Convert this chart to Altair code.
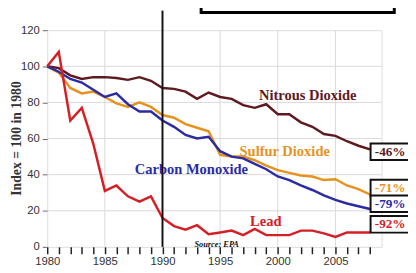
import altair as alt
import pandas as pd

years = list(range(1980, 2009))

nitrous = [100, 99, 95, 93, 94, 94, 93.5, 92.5, 94, 92, 88, 87.5, 86, 82, 85.5, 83, 82,
           78.5, 77, 79, 73.5, 73.5, 69, 66.5, 62.5, 61.5, 58.5, 56, 54]
sulfur = [100, 96.5, 88, 85, 86, 83, 79.5, 77.5, 80, 77.5, 73, 71.5, 68, 66, 64, 51, 50,
          50, 48, 45, 42.5, 41, 39.5, 39, 37, 37.5, 34, 32, 29]
carbon = [100, 97, 93, 91, 87, 83, 85, 79, 75, 75, 70, 66.5, 62, 60, 61, 53, 50, 49,
          46, 43, 39, 37, 34, 31.5, 28.5, 26, 24, 22.5, 21]
lead = [100, 108, 70, 77, 57, 31, 34, 28, 25, 28, 16, 11.5, 9.5, 12, 7, 8, 9, 6.5,
        10, 6.5, 6.5, 6.5, 9, 9, 7.5, 5.5, 8, 8, 8]

series_names = ["Nitrous Dioxide", "Sulfur Dioxide", "Carbon Monoxide", "Lead"]
series_colors = ["#5e1a1e", "#e8921e", "#2b2ba3", "#d42025"]
series_vals = [nitrous, sulfur, carbon, lead]

label_x = [2002.6, 2000.6, 1992.5, 1998.96]
label_y = [83.6, 52.7, 42.4, 13.6]

end_labels = ["-46%", "-71%", "-79%", "-92%"]
end_y = [52.7, 32.6, 23.9, 12.5]

grid_years = [1985, 1990, 1995, 2000, 2005]
grid_vals = [20, 40, 60, 80, 100]
x_tick_years = list(range(1980, 2009))
y_ticks = [0, 20, 40, 60, 80, 100, 120]

rows = []
for name, vals in zip(series_names, series_vals):
    for yr, v in zip(years, vals):
        rows.append({"year": yr, "value": v, "series": name})
df = pd.DataFrame(rows)

lab_df = pd.DataFrame({"series": series_names, "x": label_x, "y": label_y})
end_df = pd.DataFrame({"series": series_names, "text": end_labels, "y": end_y,
                       "y0": [v - 4.6 for v in end_y], "y1": [v + 4.6 for v in end_y],
                       "x0": [2008.05] * 4, "x1": [2011.8] * 4, "xc": [2009.75] * 4})

xs = alt.Scale(domain=[1980, 2009], nice=False, zero=False)
ys = alt.Scale(domain=[0, 120], nice=False)
cs = alt.Scale(domain=series_names, range=series_colors)

x_axis = alt.Axis(values=x_tick_years, title=None, grid=False, domain=False, format="d",
                  labelExpr="datum.value % 5 == 0 ? datum.label : ''",
                  ticks=True, tickSize=7, tickColor="#222", tickWidth=1.5,
                  labelPadding=2, labelOverlap=False, labelFlush=False, labelBound=False,
                  labelFont="Liberation Sans", labelFontSize=11.5, labelColor="#333")
y_axis = alt.Axis(values=y_ticks, title="Index = 100 in 1980",
                  grid=False, domain=False, ticks=True, tickSize=5, tickColor="#666",
                  labelPadding=3, labelOverlap=False, labelFlush=False, labelBound=False,
                  labelFont="Liberation Sans", labelFontSize=11.5,
                  labelColor="#333", titleFont="Liberation Serif", titleFontSize=14,
                  titleFontWeight="bold", titleColor="#333", titleAngle=-90,
                  titleX=-31, titleY=110, titleBaseline="middle", titleAlign="center")


def X(field):
    return alt.X(field, scale=xs, axis=x_axis)


def Y(field):
    return alt.Y(field, scale=ys, axis=y_axis)


vgrid = alt.Chart(pd.DataFrame({"x": grid_years})).mark_rule(color="#d9d9d9", strokeWidth=1).encode(
    x=X("x:Q"),
)
hgrid = alt.Chart(pd.DataFrame({"y": grid_vals})).mark_rule(color="#d9d9d9", strokeWidth=1).encode(
    y=Y("y:Q"),
)

lines = alt.Chart(df).mark_line(strokeWidth=2.5).encode(
    x=X("year:Q"),
    y=Y("value:Q"),
    color=alt.Color("series:N", scale=cs, legend=None),
    detail="series:N",
)

labels = alt.Chart(lab_df).mark_text(font="Liberation Serif", fontSize=14.8, fontWeight="bold").encode(
    x=X("x:Q"), y=Y("y:Q"), text="series:N",
    color=alt.Color("series:N", scale=cs, legend=None),
)

vline = alt.Chart(pd.DataFrame({"x": [1990]})).mark_rule(color="#111", strokeWidth=2).encode(
    x=X("x:Q"), y=alt.value(-20), y2=alt.value(221),
)

boxes = alt.Chart(end_df).mark_rect(fill="white", stroke="#111", strokeWidth=2).encode(
    x=X("x0:Q"), x2="x1:Q", y=Y("y0:Q"), y2="y1:Q",
)
box_text = alt.Chart(end_df).mark_text(font="Liberation Serif", fontSize=13.5, fontWeight="bold").encode(
    x=X("xc:Q"), y=Y("y:Q"), text="text:N",
    color=alt.Color("series:N", scale=cs, legend=None),
)

title_box = alt.Chart(pd.DataFrame({"a": [0]})).mark_rect(fill="white", stroke="#000", strokeWidth=3).encode(
    x=alt.value(157), x2=alt.value(354), y=alt.value(-30), y2=alt.value(-18),
)

source = alt.Chart(pd.DataFrame({"x": [1994.7], "y": [1.8], "t": ["Source: EPA"]})).mark_text(
    font="Liberation Serif", fontSize=8.5, fontWeight="bold", fontStyle="italic", color="#111"
).encode(x=X("x:Q"), y=Y("y:Q"), text="t:N")

chart = alt.layer(vgrid, hgrid, lines, labels, vline, source, title_box, boxes, box_text).properties(
    width=341, height=221,
    autosize=alt.AutoSizeParams(type="none"),
    padding={"left": 40, "top": 20, "right": 27, "bottom": 24},
).configure_view(stroke="#000", strokeWidth=3).configure(background="white")

chart.save("out.html", embed_options={"renderer": "svg", "actions": False})
